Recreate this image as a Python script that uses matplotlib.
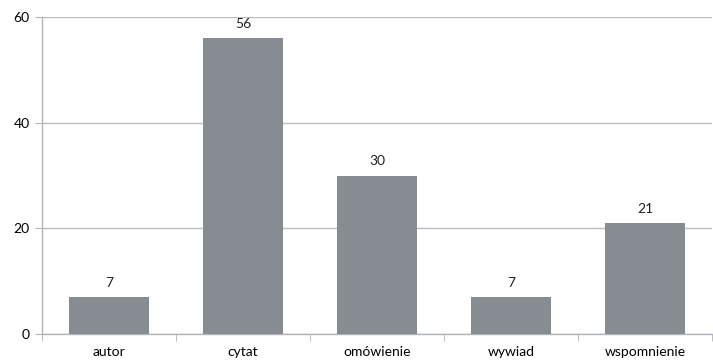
import numpy as np
import matplotlib.pyplot as plt

categories = ['autor', 'cytat', 'omówienie', 'wywiad', 'wspomnienie']
values = [7, 56, 30, 7, 21]
y_ticks = [0, 20, 40, 60]

plt.rcParams['font.family'] = ['Lato', 'DejaVu Sans']

fig = plt.figure(figsize=(7.13, 3.61), dpi=100)
ax = fig.add_axes([42 / 713, 27 / 361, 670 / 713, 317 / 361])

x = np.arange(len(categories))
bars = ax.bar(x, values, width=0.59, color='#878b92', zorder=3)

for xi, v in zip(x, values):
    ax.text(xi, v + 1.6, str(v), ha='center', va='bottom', fontsize=10, color='#222222')

ax.set_xlim(-0.5, len(categories) - 0.5)
ax.set_ylim(0, 60)
ax.set_yticks(y_ticks)
ax.set_xticks(x)
ax.set_xticklabels(categories, fontsize=10)
ax.set_xticks(np.arange(-0.5, len(categories)), minor=True)
ax.tick_params(axis='x', which='major', length=0, pad=9)
ax.tick_params(axis='x', which='minor', length=5, color='#b0b4b9')
ax.tick_params(axis='y', length=5, color='#b0b4b9', labelsize=10, pad=4)

ax.grid(axis='y', color='#b8bcc1', linewidth=1, zorder=0)
for side in ['top', 'right']:
    ax.spines[side].set_visible(False)
for side in ['left', 'bottom']:
    ax.spines[side].set_color('#b0b4b9')
    ax.spines[side].set_linewidth(1)

fig.savefig('out.png', dpi=100)
